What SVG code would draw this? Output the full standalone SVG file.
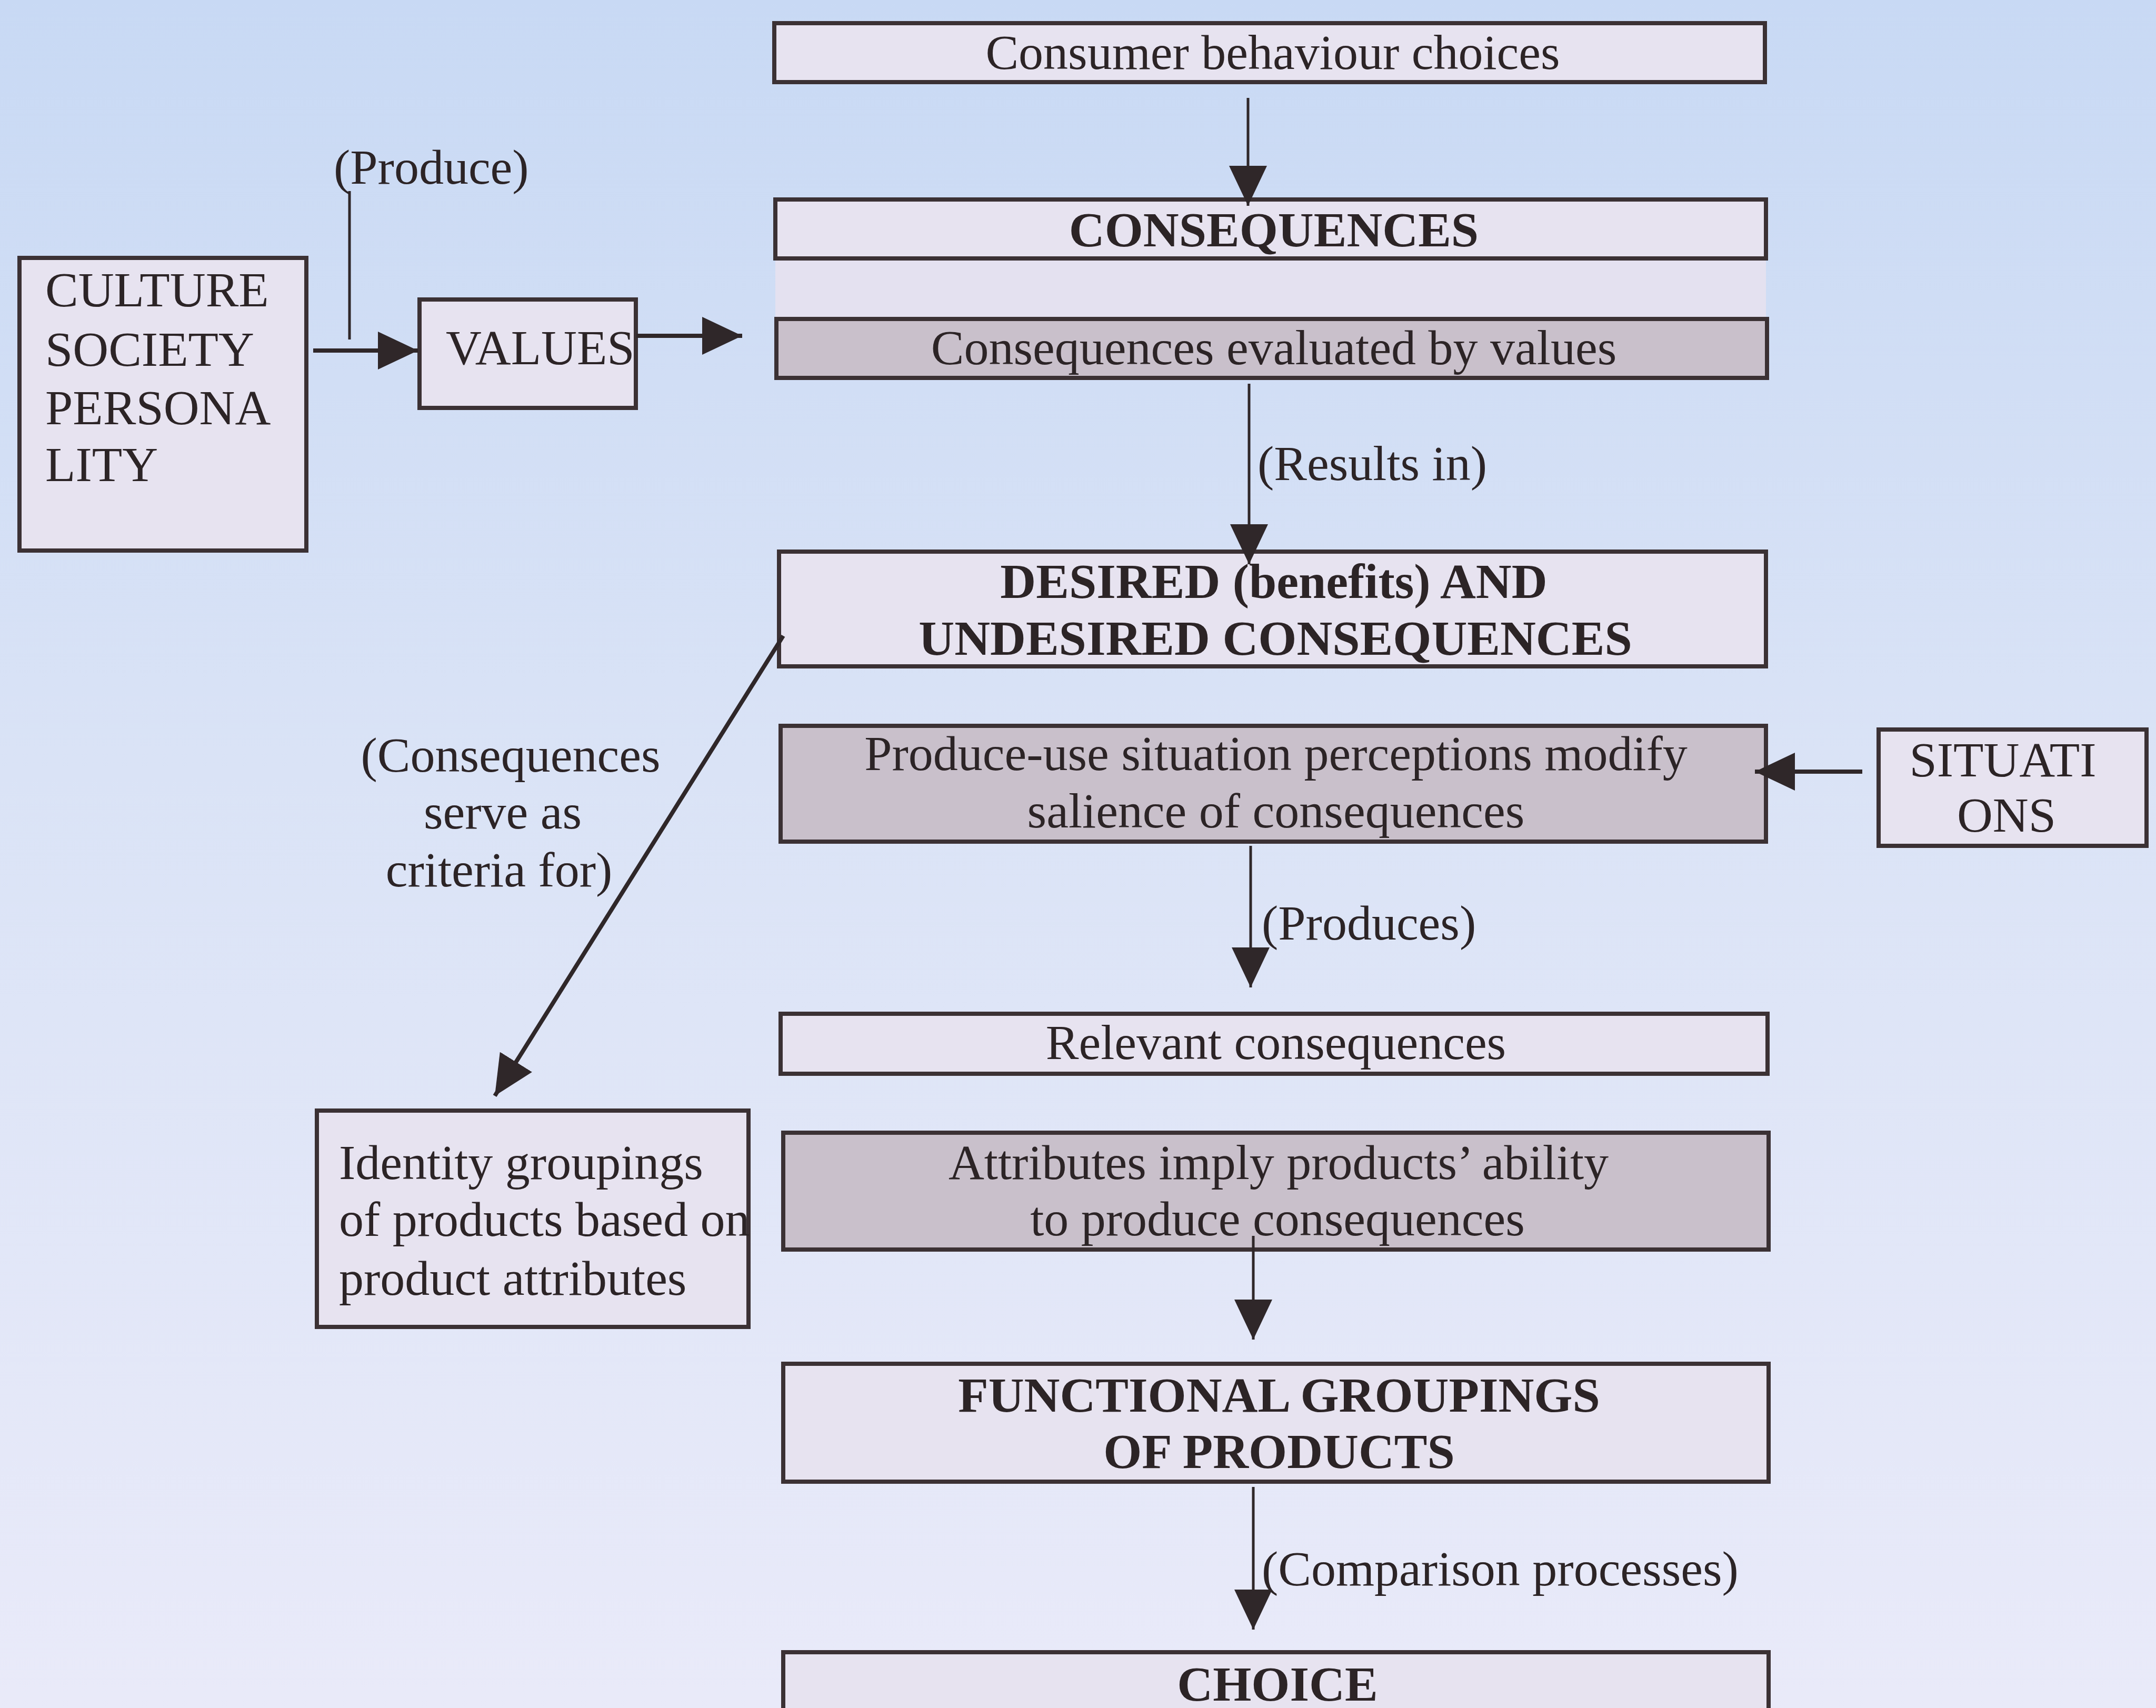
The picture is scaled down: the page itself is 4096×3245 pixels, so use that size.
<svg xmlns="http://www.w3.org/2000/svg" width="4096" height="3245" viewBox="0 0 4096 3245">
<defs>
<linearGradient id="bg" x1="0" y1="0" x2="0" y2="1">
<stop offset="0" stop-color="#c8d9f4"/>
<stop offset="0.45" stop-color="#dae3f6"/>
<stop offset="1" stop-color="#e9eaf9"/>
</linearGradient>
<marker id="ah" markerUnits="userSpaceOnUse" markerWidth="76" markerHeight="72" viewBox="0 0 76 72" refX="76" refY="36" orient="auto">
<path d="M0,0 L76,36 L0,72 z" fill="#2f2729"/>
</marker>
<style>
.light{fill:#e7e3f0;stroke:#3b3134;stroke-width:8}
.dark{fill:#c9c0cb;stroke:#3b3134;stroke-width:8}
.t{font-family:"Liberation Serif","Times New Roman",serif;font-size:94px;fill:#2c2426}
.c{text-anchor:middle}
.b{font-weight:bold}
.ln{stroke:#2f2729;stroke-width:5;fill:none}
.lnh{stroke:#2f2729;stroke-width:8;fill:none}
</style>
</defs>
<rect x="0" y="0" width="4096" height="3245" fill="url(#bg)"/>

<rect x="1473" y="491" width="1882" height="115" fill="#e4e1f0"/>

<g id="node-consumer"><rect class="light" x="1471" y="44" width="1882" height="112"/><text class="t c" x="2418" y="131">Consumer behaviour choices</text></g>
<g id="node-consequences"><rect class="light" x="1473" y="379" width="1882" height="112"/><text class="t c b" x="2420" y="468">CONSEQUENCES</text></g>
<g id="node-evaluated"><rect class="dark" x="1475" y="606" width="1882" height="112"/><text class="t c" x="2420" y="692">Consequences evaluated by values</text></g>
<g id="node-culture"><rect class="light" x="37" y="490" width="545" height="556"/>
<text class="t" x="86" y="582">CULTURE</text><text class="t" x="86" y="695">SOCIETY</text><text class="t" x="86" y="806">PERSONA</text><text class="t" x="86" y="914">LITY</text></g>
<g id="node-values"><rect class="light" x="797" y="569" width="411" height="206"/><text class="t" x="847" y="692">VALUES</text></g>
<g id="node-desired"><rect class="light" x="1480" y="1048" width="1875" height="218"/>
<text class="t c b" x="2420" y="1136">DESIRED (benefits) AND</text><text class="t c b" x="2423" y="1244">UNDESIRED CONSEQUENCES</text></g>
<g id="node-produce-use"><rect class="dark" x="1483" y="1379" width="1872" height="220"/>
<text class="t c" x="2424" y="1463">Produce-use situation perceptions modify</text><text class="t c" x="2424" y="1572">salience of consequences</text></g>
<g id="node-situations"><rect class="light" x="3569" y="1386" width="509" height="221"/>
<text class="t c" x="3805" y="1475">SITUATI</text><text class="t c" x="3812" y="1580">ONS</text></g>
<g id="node-relevant"><rect class="light" x="1483" y="1926" width="1875" height="114"/><text class="t c" x="2424" y="2012">Relevant consequences</text></g>
<g id="node-identity"><rect class="light" x="602" y="2110" width="820" height="411"/>
<text class="t" x="644" y="2240">Identity groupings</text><text class="t" x="644" y="2348">of products based on</text><text class="t" x="644" y="2460">product attributes</text></g>
<g id="node-attributes"><rect class="dark" x="1488" y="2152" width="1872" height="222"/>
<text class="t c" x="2429" y="2240">Attributes imply products’ ability</text><text class="t c" x="2427" y="2347">to produce consequences</text></g>
<g id="node-functional"><rect class="light" x="1488" y="2591" width="1872" height="224"/>
<text class="t c b" x="2430" y="2682">FUNCTIONAL GROUPINGS</text><text class="t c b" x="2430" y="2789">OF PRODUCTS</text></g>
<g id="node-choice"><rect class="light" x="1488" y="3139" width="1872" height="200"/><text class="t c b" x="2427" y="3231">CHOICE</text></g>

<g id="connectors">
<line class="ln" x1="2371" y1="186" x2="2371" y2="391" marker-end="url(#ah)"/>
<line class="ln" x1="664" y1="363" x2="664" y2="645"/>
<line class="lnh" x1="595" y1="666" x2="794" y2="666" marker-end="url(#ah)"/>
<line class="lnh" x1="1209" y1="638" x2="1410" y2="638" marker-end="url(#ah)"/>
<line class="ln" x1="2373" y1="729" x2="2373" y2="1072" marker-end="url(#ah)"/>
<line class="lnh" x1="1488" y1="1208" x2="940" y2="2082" marker-end="url(#ah)"/>
<line class="lnh" x1="3538" y1="1466" x2="3334" y2="1466" marker-end="url(#ah)"/>
<line class="ln" x1="2376" y1="1607" x2="2376" y2="1876" marker-end="url(#ah)"/>
<line class="ln" x1="2381" y1="2348" x2="2381" y2="2545" marker-end="url(#ah)"/>
<line class="ln" x1="2381" y1="2825" x2="2381" y2="3096" marker-end="url(#ah)"/>
<text class="t" x="634" y="349">(Produce)</text>
<text class="t" x="2389" y="912">(Results in)</text>
<text class="t c" x="970" y="1466">(Consequences</text>
<text class="t c" x="955" y="1574">serve as</text>
<text class="t c" x="948" y="1684">criteria for)</text>
<text class="t" x="2397" y="1785">(Produces)</text>
<text class="t" x="2397" y="3012">(Comparison processes)</text>
</g>
</svg>
